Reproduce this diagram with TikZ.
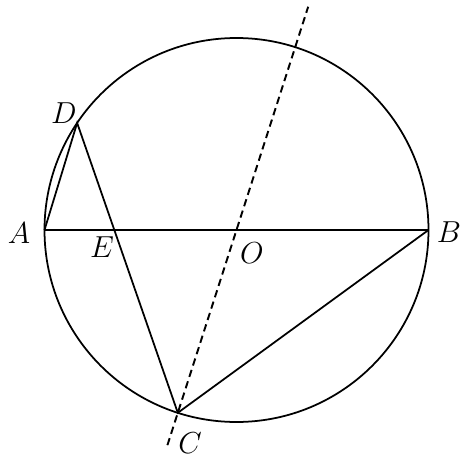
\documentclass[tikz,border=0pt]{standalone}
\usetikzlibrary{calc}
\tikzset{
  geo/.style={line width=1pt},
  dashline/.style={line width=1.1pt, dash pattern=on 4.2pt off 2.6pt},
  lbl/.style={font=\fontsize{18}{22}\selectfont}
}
\begin{document}
\begin{tikzpicture}
	\useasboundingbox (0,0) rectangle (9.38,9.2);
	% Kreis
	\coordinate (O) at (4.73,4.6);
	\draw [geo] (O) circle (3.84);
	% Punkte
	\coordinate (A) at ($(O)+(180:3.84)$);
	\coordinate (B) at ($(O)+(0:3.84)$);
	\coordinate (D) at ($(O)+(146.1:3.84)$);
	\coordinate (C) at ($(O)+(252.2:3.84)$);
	\coordinate (E) at (intersection of A--B and D--C);
	\coordinate (top) at ($(O)+(72.2:4.69)$);
	\coordinate (bot) at ($(O)+(252.2:4.52)$);
	% Linien
	\draw [geo] (A) -- (B);
	\draw [geo] (A) -- (D) -- (C) -- (B);
	\draw [dashline] (bot) -- (top);
	% Labels
	\node [lbl] (lA) at (0.38,4.54) {$A$};
	\node [lbl] (lB) at (8.98,4.56) {$B$};
	\node [lbl] (lC) at (3.8,0.34) {$C$};
	\node [lbl] (lD) at (1.28,6.94) {$D$};
	\node [lbl] (lE) at (2.04,4.26) {$E$};
	\node [lbl] (lO) at (5.04,4.14) {$O$};
\end{tikzpicture}
\end{document}
